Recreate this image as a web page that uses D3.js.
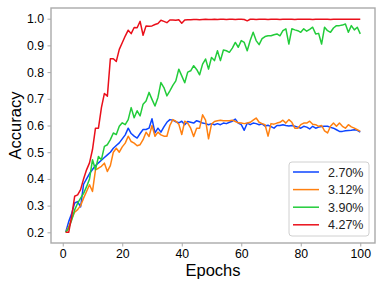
<!DOCTYPE html>
<html>
<head>
<meta charset="utf-8">
<script src="https://cdn.jsdelivr.net/npm/d3@7"></script>
<style>
  body { margin: 0; background: #fff; }
  svg { font-family: "Liberation Sans", Arial, sans-serif; }
</style>
</head>
<body>
<div class="container"></div>
<script>
const w = 384;
const h = 288;

// epochs 1..100
const epochs = d3.range(1, 101);
const labels = ["2.70%", "3.12%", "3.90%", "4.27%"];
const colors = ["#0d45ff", "#ff8010", "#22cc3a", "#ea0f1a"];

const acc270 = [0.20,0.24,0.27,0.31,0.315,0.295,0.38,0.40,0.42,0.435,
  0.45,0.46,0.47,0.48,0.49,0.50,0.515,0.525,0.535,0.55,
  0.565,0.59,0.57,0.56,0.553,0.57,0.585,0.585,0.59,0.625,
  0.572,0.59,0.575,0.595,0.612,0.622,0.62,0.614,0.61,0.616,
  0.603,0.615,0.612,0.609,0.618,0.614,0.609,0.607,0.603,0.607,
  0.603,0.607,0.603,0.609,0.607,0.612,0.616,0.624,0.609,0.603,
  0.582,0.609,0.603,0.609,0.607,0.603,0.606,0.598,0.601,0.596,
  0.59,0.60,0.60,0.603,0.60,0.598,0.60,0.597,0.594,0.59,
  0.597,0.594,0.587,0.597,0.59,0.594,0.596,0.597,0.597,0.593,
  0.59,0.584,0.578,0.578,0.58,0.581,0.582,0.584,0.582,0.575];

const acc312 = [0.20,0.22,0.25,0.275,0.285,0.30,0.328,0.353,0.378,0.353,
  0.434,0.44,0.447,0.459,0.428,0.45,0.50,0.515,0.50,0.52,
  0.534,0.56,0.54,0.534,0.524,0.528,0.547,0.575,0.559,0.60,
  0.56,0.575,0.565,0.56,0.56,0.60,0.622,0.616,0.605,0.566,
  0.616,0.609,0.59,0.559,0.59,0.59,0.64,0.62,0.55,0.605,
  0.615,0.618,0.62,0.618,0.618,0.618,0.62,0.615,0.61,0.609,
  0.607,0.609,0.612,0.62,0.628,0.612,0.607,0.603,0.56,0.607,
  0.605,0.609,0.612,0.62,0.609,0.622,0.612,0.59,0.59,0.603,
  0.609,0.609,0.616,0.605,0.603,0.597,0.60,0.58,0.572,0.597,
  0.609,0.597,0.609,0.597,0.59,0.603,0.595,0.59,0.584,0.578];

const acc390 = [0.20,0.215,0.246,0.284,0.309,0.328,0.346,0.371,0.40,0.472,
  0.434,0.484,0.472,0.522,0.528,0.547,0.572,0.566,0.597,0.61,
  0.603,0.622,0.667,0.629,0.655,0.636,0.68,0.692,0.724,0.698,
  0.673,0.705,0.761,0.742,0.711,0.73,0.75,0.767,0.811,0.786,
  0.76,0.80,0.805,0.824,0.81,0.79,0.83,0.849,0.811,0.855,
  0.843,0.88,0.843,0.883,0.88,0.874,0.89,0.911,0.893,0.918,
  0.911,0.88,0.918,0.949,0.918,0.903,0.925,0.933,0.936,0.936,
  0.94,0.943,0.936,0.955,0.962,0.905,0.962,0.958,0.955,0.949,
  0.962,0.953,0.96,0.968,0.943,0.945,0.905,0.968,0.955,0.949,
  0.965,0.974,0.974,0.976,0.98,0.949,0.974,0.958,0.968,0.943];

const acc427 = [0.20,0.20,0.26,0.335,0.34,0.36,0.40,0.434,0.46,0.51,
  0.59,0.59,0.667,0.72,0.71,0.85,0.85,0.84,0.885,0.91,
  0.935,0.957,0.944,0.967,0.966,0.99,0.938,0.973,0.972,0.973,
  0.978,0.982,0.994,0.99,0.985,0.995,0.995,0.994,0.996,0.983,
  0.995,0.996,0.996,0.997,0.997,0.996,0.997,0.998,0.997,0.997,
  0.998,0.997,0.998,0.998,0.997,0.998,0.998,0.997,0.998,0.998,
  0.997,0.992,0.998,0.998,0.997,0.998,0.998,0.998,0.997,0.998,
  0.998,0.998,0.997,0.998,0.998,0.998,0.998,0.997,0.998,0.998,
  0.998,0.998,0.998,0.997,0.998,0.998,0.998,0.998,0.998,0.997,
  0.998,0.998,0.998,0.998,0.998,0.998,0.998,0.998,0.998,0.998];

const series = [acc270, acc312, acc390, acc427];
const xTicks = [0, 20, 40, 60, 80, 100];
const yTicks = [0.2, 0.3, 0.4, 0.5, 0.6, 0.7, 0.8, 0.9, 1.0];

const pLeft = 51, pRight = 375, pTop = 8, pBottom = 243;

const xScale = d3.scaleLinear().domain([-3.95, 104.95]).range([pLeft, pRight]);
const yScale = d3.scaleLinear().domain([0.16, 1.04]).range([pBottom, pTop]);

const svg = d3.select(".container")
  .append("svg")
  .attr("width", w)
  .attr("height", h);

const line = d3.line()
  .x((d, i) => xScale(epochs[i]))
  .y(d => yScale(d));

svg.selectAll("path.series")
  .data(series)
  .enter()
  .append("path")
  .attr("class", "series")
  .attr("d", d => line(d))
  .attr("fill", "none")
  .attr("stroke", (d, i) => colors[i])
  .attr("stroke-width", 1.5)
  .attr("stroke-linejoin", "round");

// frame
svg.append("rect")
  .attr("x", pLeft).attr("y", pTop)
  .attr("width", pRight - pLeft).attr("height", pBottom - pTop)
  .attr("fill", "none")
  .attr("stroke", "#aaaaaa")
  .attr("stroke-width", 1.4);

const xAxis = d3.axisBottom(xScale).tickValues(xTicks).tickSize(3.5).tickPadding(3)
  .tickFormat(d3.format("d"));
const yAxis = d3.axisLeft(yScale).tickValues(yTicks).tickSize(3.5).tickPadding(3.5)
  .tickFormat(d3.format(".1f"));

const gx = svg.append("g")
  .attr("transform", `translate(0, ${pBottom})`)
  .call(xAxis);
const gy = svg.append("g")
  .attr("transform", `translate(${pLeft}, 0)`)
  .call(yAxis);

[gx, gy].forEach(g => {
  g.select(".domain").remove();
  g.selectAll(".tick line").attr("stroke", "#aaaaaa").attr("stroke-width", 1);
  g.selectAll(".tick text")
    .attr("fill", "#000")
    .style("font-size", "12.3px")
    .style("font-family", "Liberation Sans, Arial, sans-serif");
});

svg.append("text")
  .attr("x", (pLeft + pRight) / 2)
  .attr("y", 276)
  .attr("text-anchor", "middle")
  .style("font-size", "16.5px")
  .text("Epochs");

svg.append("text")
  .attr("transform", `translate(21, ${(pTop + pBottom) / 2}) rotate(-90)`)
  .attr("text-anchor", "middle")
  .style("font-size", "16.5px")
  .text("Accuracy");

// legend
const legend = svg.append("g");
legend.append("rect")
  .attr("x", 289).attr("y", 162)
  .attr("width", 80).attr("height", 74)
  .attr("rx", 3)
  .attr("fill", "#fff")
  .attr("fill-opacity", 0.85)
  .attr("stroke", "#d0d0d0");

const items = legend.selectAll("g.item")
  .data(labels)
  .enter()
  .append("g")
  .attr("class", "item")
  .attr("transform", (d, i) => `translate(0, ${172 + i * 17.6})`);

items.append("line")
  .attr("x1", 293).attr("x2", 319)
  .attr("stroke", (d, i) => colors[i])
  .attr("stroke-width", 1.5);

items.append("text")
  .attr("x", 328)
  .attr("y", 4.5)
  .style("font-size", "12.5px")
  .attr("fill", "#222")
  .text(d => d);
</script>
</body>
</html>
